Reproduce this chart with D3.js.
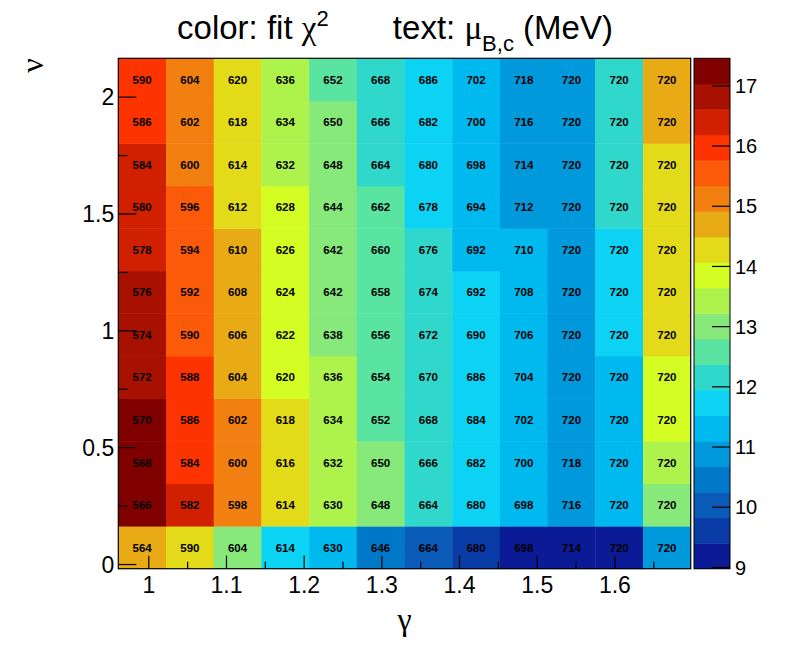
<!DOCTYPE html>
<html><head><meta charset="utf-8">
<script src="https://cdn.jsdelivr.net/npm/d3@7"></script>
<style>
html,body{margin:0;padding:0;background:#fff;}
svg{display:block;}
</style>
</head><body>
<svg id="c" width="789" height="650"></svg>
<script>
// ---- data ----
// bin centres (gamma along x, nu along y)
const gammaCenters = [0.9921, 1.0535, 1.1149, 1.1763, 1.2377, 1.2991, 1.3605, 1.4219, 1.4833, 1.5447, 1.6061, 1.6675];
const gammaBinWidth = 0.0614;
const nuCenters = [0.071, 0.253, 0.435, 0.617, 0.799, 0.981, 1.163, 1.345, 1.527, 1.709, 1.891, 2.073];
const nuBinWidth = 0.182;
const xTicks = [1.0, 1.1, 1.2, 1.3, 1.4, 1.5, 1.6];
const xMinorTicks = [1.05, 1.15, 1.25, 1.35, 1.45, 1.55, 1.65];
const yTicks = [0, 0.5, 1, 1.5, 2];
const yMinorTicks = [0.25, 0.75, 1.25, 1.75];
const zTicks = [9, 10, 11, 12, 13, 14, 15, 16, 17];
const zRange = [8.97, 17.45];
const nLevels = 20;
// text values mu_B,c (MeV): rows listed from nu lowest (index 0) to highest
const muBc = [
  [564, 590, 604, 614, 630, 646, 664, 680, 698, 714, 720, 720],
  [566, 582, 598, 614, 630, 648, 664, 680, 698, 716, 720, 720],
  [568, 584, 600, 616, 632, 650, 666, 682, 700, 718, 720, 720],
  [570, 586, 602, 618, 634, 652, 668, 684, 702, 720, 720, 720],
  [572, 588, 604, 620, 636, 654, 670, 686, 704, 720, 720, 720],
  [574, 590, 606, 622, 638, 656, 672, 690, 706, 720, 720, 720],
  [576, 592, 608, 624, 642, 658, 674, 692, 708, 720, 720, 720],
  [578, 594, 610, 626, 642, 660, 676, 692, 710, 720, 720, 720],
  [580, 596, 612, 628, 644, 662, 678, 694, 712, 720, 720, 720],
  [584, 600, 614, 632, 648, 664, 680, 698, 714, 720, 720, 720],
  [586, 602, 618, 634, 650, 666, 682, 700, 716, 720, 720, 720],
  [590, 604, 620, 636, 652, 668, 686, 702, 718, 720, 720, 720]
];
// colour values: fit chi^2 (estimated from colour band)
const chi2 = [
  [14.70, 14.28, 13.02, 11.72, 11.30, 10.45, 10.05, 9.60, 9.18, 9.20, 9.22, 10.88],
  [17.20, 16.40, 15.10, 14.26, 13.42, 13.00, 12.15, 11.72, 11.30, 10.90, 11.28, 12.98],
  [17.22, 15.95, 15.12, 14.28, 13.40, 12.99, 12.16, 11.73, 11.31, 10.88, 11.30, 13.41],
  [17.25, 15.96, 15.10, 14.27, 13.43, 12.58, 12.14, 11.71, 11.29, 10.87, 11.29, 13.84],
  [16.81, 15.94, 14.70, 13.86, 13.41, 12.57, 12.15, 11.72, 11.30, 10.89, 11.30, 13.85],
  [16.82, 15.55, 14.71, 13.84, 13.00, 12.58, 12.13, 11.70, 11.31, 10.88, 11.72, 14.27],
  [16.80, 15.54, 14.69, 13.85, 13.01, 12.57, 12.14, 11.71, 11.29, 10.87, 11.73, 14.26],
  [16.40, 15.56, 14.70, 13.86, 12.99, 12.59, 12.15, 11.30, 11.32, 10.89, 11.71, 14.28],
  [16.41, 15.55, 14.27, 13.84, 13.00, 12.58, 11.72, 11.31, 10.88, 10.90, 12.15, 14.27],
  [16.39, 15.12, 14.28, 13.42, 13.02, 12.16, 11.73, 11.29, 10.87, 10.89, 12.14, 14.29],
  [15.96, 15.11, 14.27, 13.41, 13.01, 12.15, 11.72, 11.30, 10.88, 10.88, 12.16, 14.70],
  [15.97, 15.10, 14.26, 13.43, 12.58, 12.14, 11.71, 11.31, 10.89, 10.87, 12.15, 14.71]
];
// palette (low -> high)
const palette = ["#0b1b95","#0a3ca7","#0a5ab7","#0078c8","#0099dc","#00b9ee","#0cd3f4","#30d8cc","#5ae4a2","#86e97a",
                 "#aef24c","#d4fe23","#e3da19","#e9ab15","#f28010","#fb5a08","#fd3300","#d02000","#a81000","#800000"];

// ---- layout ----
const frame = {l: 118.3, r: 690.7, t: 58.3, b: 568.7};
const pal = {l: 694, r: 730, t: 58.3, b: 568.7};
const svg = d3.select("#c");
const sans = "'Liberation Sans', Arial, Helvetica, sans-serif";
const serif = "'Liberation Serif', 'Times New Roman', serif";

const x = d3.scaleLinear().domain([0.9614, 1.6982]).range([frame.l, frame.r]);
const y = d3.scaleLinear().domain([-0.02, 2.164]).range([frame.b, frame.t]);
const z = d3.scaleLinear().domain(zRange).range([pal.b, pal.t]);
const color = d3.scaleQuantize().domain(zRange).range(palette);

// cells
const cells = [];
nuCenters.forEach((nu, j) => gammaCenters.forEach((g, i) => cells.push({g, nu, c: chi2[j][i], t: muBc[j][i]})));
const gCells = svg.append("g");
gCells.selectAll("rect").data(cells).join("rect")
  .attr("x", d => x(d.g - gammaBinWidth / 2))
  .attr("y", d => y(d.nu + nuBinWidth / 2))
  .attr("width", d => x(d.g + gammaBinWidth / 2) - x(d.g - gammaBinWidth / 2) + 0.4)
  .attr("height", d => y(d.nu - nuBinWidth / 2) - y(d.nu + nuBinWidth / 2) + 0.4)
  .attr("fill", d => color(d.c));
gCells.selectAll("text").data(cells).join("text")
  .attr("x", d => x(d.g)).attr("y", d => y(d.nu))
  .attr("dy", "0.36em").attr("text-anchor", "middle")
  .attr("font-family", sans).attr("font-weight", "bold").attr("font-size", 11.5)
  .attr("fill", "#000").text(d => d.t);

// frame
svg.append("rect").attr("x", frame.l).attr("y", frame.t)
  .attr("width", frame.r - frame.l).attr("height", frame.b - frame.t)
  .attr("fill", "none").attr("stroke", "#000").attr("stroke-width", 1.2);

// x axis ticks (inward)
const gx = svg.append("g").attr("transform", `translate(0,${frame.b})`);
gx.call(d3.axisBottom(x).tickValues(xTicks).tickSize(-13).tickFormat(d3.format("")))
  .call(g => g.select(".domain").remove());
gx.selectAll(".tick line").attr("stroke", "#000").attr("stroke-width", 1.2);
gx.selectAll(".tick text").attr("y", 8).attr("dy", "0.71em")
  .attr("font-family", sans).attr("font-size", 23).attr("fill", "#000");
svg.append("g").attr("transform", `translate(0,${frame.b})`)
  .call(d3.axisBottom(x).tickValues(xMinorTicks).tickSize(-7).tickFormat(""))
  .call(g => g.select(".domain").remove())
  .selectAll("line").attr("stroke", "#000").attr("stroke-width", 1.2);

// y axis
const gy = svg.append("g").attr("transform", `translate(${frame.l},0)`);
gy.call(d3.axisLeft(y).tickValues(yTicks).tickSize(-18).tickFormat(d3.format("")))
  .call(g => g.select(".domain").remove());
gy.selectAll(".tick line").attr("stroke", "#000").attr("stroke-width", 1.2);
gy.selectAll(".tick text").attr("x", -4).attr("dy", "0.36em")
  .attr("font-family", sans).attr("font-size", 23).attr("fill", "#000");
svg.append("g").attr("transform", `translate(${frame.l},0)`)
  .call(d3.axisLeft(y).tickValues(yMinorTicks).tickSize(-9).tickFormat(""))
  .call(g => g.select(".domain").remove())
  .selectAll("line").attr("stroke", "#000").attr("stroke-width", 1.2);

// palette axis
const levels = d3.range(nLevels).map(k => zRange[0] + (zRange[1] - zRange[0]) * k / nLevels);
const step = (zRange[1] - zRange[0]) / nLevels;
svg.append("g").selectAll("rect").data(levels).join("rect")
  .attr("x", pal.l).attr("width", pal.r - pal.l)
  .attr("y", d => z(d + step)).attr("height", d => z(d) - z(d + step) + 0.4)
  .attr("fill", d => color(d + step / 2));
svg.append("rect").attr("x", pal.l).attr("y", pal.t).attr("width", pal.r - pal.l).attr("height", pal.b - pal.t)
  .attr("fill", "none").attr("stroke", "#000").attr("stroke-width", 1);
const gz = svg.append("g").attr("transform", `translate(${pal.r},0)`);
gz.call(d3.axisRight(z).tickValues(zTicks).tickSize(-18).tickFormat(d3.format("")))
  .call(g => g.select(".domain").remove());
gz.selectAll(".tick line").attr("stroke", "#000").attr("stroke-width", 1.2);
gz.selectAll(".tick text").attr("x", 5).attr("dy", "0.36em")
  .attr("font-family", sans).attr("font-size", 20).attr("fill", "#000");

// axis titles
svg.append("text").attr("x", (frame.l + frame.r) / 2).attr("y", 630)
  .attr("text-anchor", "middle").attr("font-family", serif).attr("font-size", 32).text("γ");
svg.append("text").attr("transform", `translate(43,${frame.t}) rotate(-90)`)
  .attr("text-anchor", "end").attr("font-family", serif).attr("font-size", 32).text("ν");

// title
const title = svg.append("text").attr("x", 395).attr("y", 39).attr("text-anchor", "middle")
  .attr("font-family", sans).attr("font-size", 33).attr("fill", "#000");
title.append("tspan").text("color: fit ");
title.append("tspan").attr("font-family", serif).text("χ");
title.append("tspan").attr("font-size", 22).attr("dy", -13).text("2");
title.append("tspan").attr("dy", 13).text("\u00a0\u00a0\u00a0\u00a0\u00a0\u00a0 text: ");
title.append("tspan").attr("font-family", serif).text("μ");
title.append("tspan").attr("font-size", 22).attr("dy", 12).text("B,c");
title.append("tspan").attr("dy", -12).text(" (MeV)");
</script>
</body></html>
